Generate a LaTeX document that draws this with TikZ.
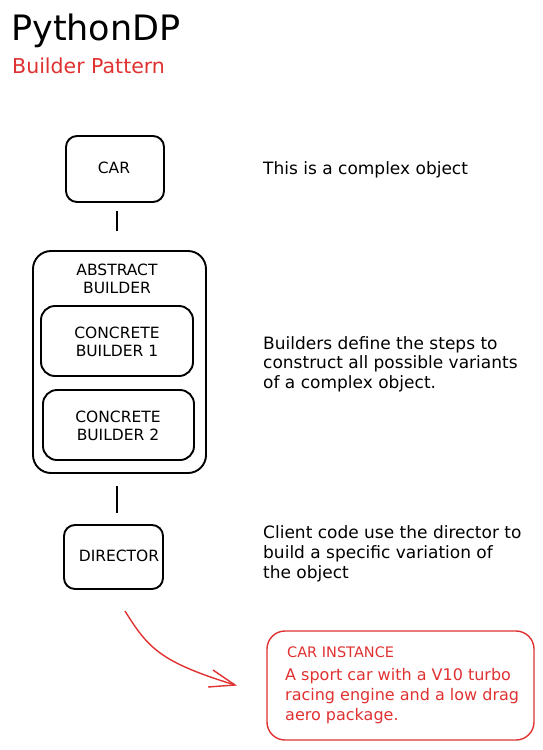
\documentclass[tikz,border=0pt]{standalone}
\usepackage{fontspec}
\setmainfont{DejaVu Sans}
\usetikzlibrary{arrows.meta}
\definecolor{exred}{HTML}{E03131}
\tikzset{
  box/.style={draw=black, line width=1.9pt, rounded corners=11pt},
  redbox/.style={draw=exred, line width=1.4pt, rounded corners=18pt},
  boxlabel/.style={font=\fontsize{15.5}{18.5}\selectfont, align=center, inner sep=0pt},
  note/.style={font=\fontsize{17}{19.5}\selectfont, align=left, anchor=base west, inner sep=0pt},
  conn/.style={line width=1.4pt},
}
\begin{document}
\begin{tikzpicture}[x=1pt,y=-1pt]
\useasboundingbox (0,0) rectangle (543,750);
% title
\node[anchor=base west, inner sep=0pt, font=\fontsize{35}{40}\selectfont] (title) at (11,40) {PythonDP};
\node[anchor=base west, inner sep=0pt, text=exred, font=\fontsize{20.5}{24}\selectfont] (subtitle) at (12,73) {Builder Pattern};
% CAR
\draw[box] (66,136) rectangle (164,202);
\node[boxlabel] (car) at (114,168) {CAR};
\coordinate (carb) at (117,211);
\coordinate (abt) at (117,231);
\draw[conn] (carb) -- (abt);
% Abstract builder
\draw[box, rounded corners=18pt] (33,251) rectangle (206,473);
\node[boxlabel] (abs) at (117,279) {ABSTRACT\\BUILDER};
\draw[box, rounded corners=14pt] (41,306) rectangle (193,376);
\node[boxlabel] (cb1) at (117,342) {CONCRETE\\BUILDER 1};
\draw[box, rounded corners=14pt] (43,390) rectangle (194,460);
\node[boxlabel] (cb2) at (118,426) {CONCRETE\\BUILDER 2};
\coordinate (absb) at (117,486);
\coordinate (dirt) at (117,513);
\draw[conn] (absb) -- (dirt);
% Director
\draw[box] (64,525) rectangle (163,589);
\node[boxlabel] (dir) at (119,556) {DIRECTOR};
% notes (base = baseline of last line)
\node[note] (n1) at (263,174) {This is a complex object};
\node[note] (n2) at (263,388) {Builders define the steps to\\construct all possible variants\\of a complex object.};
\node[note, font=\fontsize{17}{20}\selectfont] (n3) at (263,578) {Client code use the director to\\build a specific variation of\\the object};
% red arrow
\coordinate (as) at (125,611);
\coordinate (ae) at (235,685);
\draw[draw=exred, line width=1.4pt] (as) .. controls (148,648) and (160,662) .. (ae);
\draw[draw=exred, line width=1.4pt] (213,670) -- (ae) -- (208,687);
% car instance
\draw[redbox] (267,631) rectangle (534,740);
\node[note, text=exred, font=\fontsize{14.5}{19}\selectfont] (ci) at (287,657) {CAR INSTANCE};
\node[note, text=exred, font=\fontsize{16}{20}\selectfont] (cit) at (285,720) {A sport car with a V10 turbo\\racing engine and a low drag\\aero package.};
\end{tikzpicture}
\end{document}
